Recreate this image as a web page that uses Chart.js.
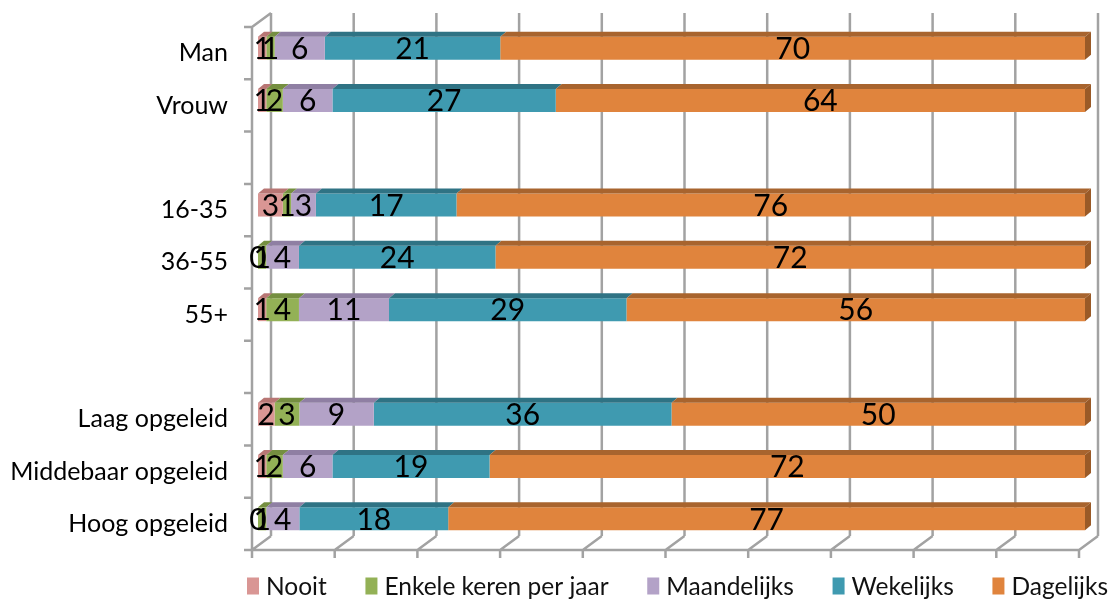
<!DOCTYPE html>
<html>
<head>
<meta charset="utf-8">
<script src="https://cdn.jsdelivr.net/npm/chart.js@4"></script>
<style>
  html, body { margin: 0; padding: 0; background: #fff; }
  #wrap { width: 1115px; height: 603px; }
</style>
</head>
<body>
<div id="wrap"><canvas id="chart"></canvas></div>
<script>
// categories (empty strings are the spacer rows)
const categories = ["Man", "Vrouw", "", "16-35", "36-55", "55+", "", "Laag opgeleid", "Middebaar opgeleid", "Hoog opgeleid"];

// values per series, as printed in the bars
const nooit       = [1, 1, null, 3, 0, 1, null, 2, 1, 0];
const enkele      = [1, 2, null, 1, 1, 4, null, 3, 2, 1];
const maandelijks = [6, 6, null, 3, 4, 11, null, 9, 6, 4];
const wekelijks   = [21, 27, null, 17, 24, 29, null, 36, 19, 18];
const dagelijks   = [70, 64, null, 76, 72, 56, null, 50, 72, 77];

const seriesNames = ["Nooit", "Enkele keren per jaar", "Maandelijks", "Wekelijks", "Dagelijks"];
const seriesValues = [nooit, enkele, maandelijks, wekelijks, dagelijks];
const frontColors = ["#d99694", "#93b156", "#b3a2c7", "#3f9ab0", "#e0843d"];
const topColors   = ["#b87674", "#758f40", "#8f7fa3", "#2f7384", "#a8642e"];
const sideColor   = "#9a5a27";

// 100% stacked: every row is scaled to its own total
const totals = categories.map((c, i) =>
  seriesValues.reduce((s, arr) => s + (arr[i] || 0), 0));

const datasets = seriesNames.map((name, k) => ({
  label: name,
  raw: seriesValues[k],
  data: seriesValues[k].map((v, i) => v === null ? null : v / totals[i] * 100),
  backgroundColor: frontColors[k],
  topColor: topColors[k],
  borderWidth: 0,
  barPercentage: 0.44,
  categoryPercentage: 1
}));

const FONT = "Lato, 'Open Sans', sans-serif";

// walls, floor and grid of the 3D look, placed from the x scale ticks
const frame3d = {
  id: "frame3d",
  beforeDatasetsDraw(chart) {
    const { ctx, chartArea: a, scales: { x } } = chart;
    const fx = -6, fy = 5, bx = 13, by = -9;
    ctx.save();
    ctx.strokeStyle = "#a2a2a2";
    ctx.lineWidth = 2.5;
    ctx.beginPath();
    x.ticks.forEach(t => {
      const px = x.getPixelForValue(t.value);
      ctx.moveTo(px + bx, a.top + by);
      ctx.lineTo(px + bx, a.bottom + by);
      ctx.moveTo(px + fx, a.bottom + fy);
      ctx.lineTo(px + bx, a.bottom + by);
      ctx.moveTo(px + fx, a.bottom + fy);
      ctx.lineTo(px + fx, a.bottom + fy + 8);
    });
    const x0 = x.getPixelForValue(x.min), x1 = x.getPixelForValue(x.max);
    ctx.moveTo(x0 + fx, a.bottom + fy);
    ctx.lineTo(x1 + fx, a.bottom + fy);
    ctx.moveTo(x0 + fx, a.top + fy);
    ctx.lineTo(x0 + fx, a.bottom + fy);
    ctx.moveTo(x0 + fx, a.top + fy);
    ctx.lineTo(x0 + bx, a.top + by);
    const step = a.height / categories.length;
    for (let i = 0; i <= categories.length; i++) {
      const yy = a.top + fy + i * step;
      ctx.moveTo(x0 + fx - 8, yy);
      ctx.lineTo(x0 + fx, yy);
    }
    ctx.stroke();
    ctx.restore();
  },
  afterDatasetsDraw(chart) {
    const ctx = chart.ctx;
    const dx = 6, dy = 5;
    const last = chart.data.datasets.length - 1;
    ctx.save();
    chart.data.datasets.forEach((ds, k) => {
      chart.getDatasetMeta(k).data.forEach((el, i) => {
        if (ds.data[i] === null) return;
        const { x, y, base, height } = el.getProps(["x", "y", "base", "height"], true);
        const top = y - height / 2, bottom = y + height / 2;
        if (x - base > 0) {
          ctx.fillStyle = ds.topColor;
          ctx.beginPath();
          ctx.moveTo(base, top);
          ctx.lineTo(base + dx, top - dy);
          ctx.lineTo(x + dx, top - dy);
          ctx.lineTo(x, top);
          ctx.closePath();
          ctx.fill();
        }
        if (k === last) {
          ctx.fillStyle = sideColor;
          ctx.beginPath();
          ctx.moveTo(x, top);
          ctx.lineTo(x + dx, top - dy);
          ctx.lineTo(x + dx, bottom - dy);
          ctx.lineTo(x, bottom);
          ctx.closePath();
          ctx.fill();
        }
      });
    });
    ctx.restore();
  },
  afterDraw(chart) {
    const ctx = chart.ctx;
    ctx.save();
    // value labels in the middle of each segment
    ctx.font = "30px " + FONT;
    ctx.fillStyle = "#000";
    ctx.textAlign = "center";
    ctx.textBaseline = "middle";
    chart.data.datasets.forEach((ds, k) => {
      chart.getDatasetMeta(k).data.forEach((el, i) => {
        if (ds.raw[i] === null) return;
        const { x, y, base } = el.getProps(["x", "y", "base"], true);
        ctx.fillText(String(ds.raw[i]), (x + base) / 2, y + 1);
      });
    });

    // legend row under the floor, spread from 247 to 1108 like the original
    ctx.font = "24.5px " + FONT;
    ctx.textAlign = "left";
    const box = 12, gapText = 7, left = 247, right = 1108, cy = 586;
    const widths = chart.data.datasets.map(ds => box + gapText + ctx.measureText(ds.label).width);
    const gap = (right - left - widths.reduce((s, w) => s + w, 0)) / (widths.length - 1);
    let lx = left;
    chart.data.datasets.forEach((ds, k) => {
      ctx.fillStyle = ds.backgroundColor;
      ctx.fillRect(lx, cy - 8.5, box, 17);
      ctx.fillStyle = "#111";
      ctx.fillText(ds.label, lx + box + gapText, cy + 1);
      lx += widths[k] + gap;
    });
    ctx.restore();
  }
};

new Chart(document.getElementById("chart"), {
  type: "bar",
  data: { labels: categories, datasets: datasets },
  plugins: [frame3d],
  options: {
    indexAxis: "y",
    responsive: true,
    maintainAspectRatio: false,
    animation: false,
    events: [],
    layout: { padding: { left: 10, right: 30, top: 22, bottom: 58 } },
    scales: {
      x: {
        stacked: true,
        min: 0,
        max: 100,
        ticks: { stepSize: 10, display: false },
        grid: { display: false },
        border: { display: false },
        afterFit(s) { s.height = 0; }
      },
      y: {
        stacked: true,
        grid: {
          display: true,
          drawOnChartArea: false,
          drawTicks: true,
          tickLength: 30,
          color: "rgba(0,0,0,0)"
        },
        border: { display: false },
        ticks: {
          color: "#000",
          padding: 0,
          labelOffset: 5,
          autoSkip: false,
          font: { family: FONT, size: 25 }
        },
        afterFit(s) { s.width = 248; }
      }
    },
    plugins: {
      legend: { display: false },
      tooltip: { enabled: false }
    }
  }
});
</script>
</body>
</html>
